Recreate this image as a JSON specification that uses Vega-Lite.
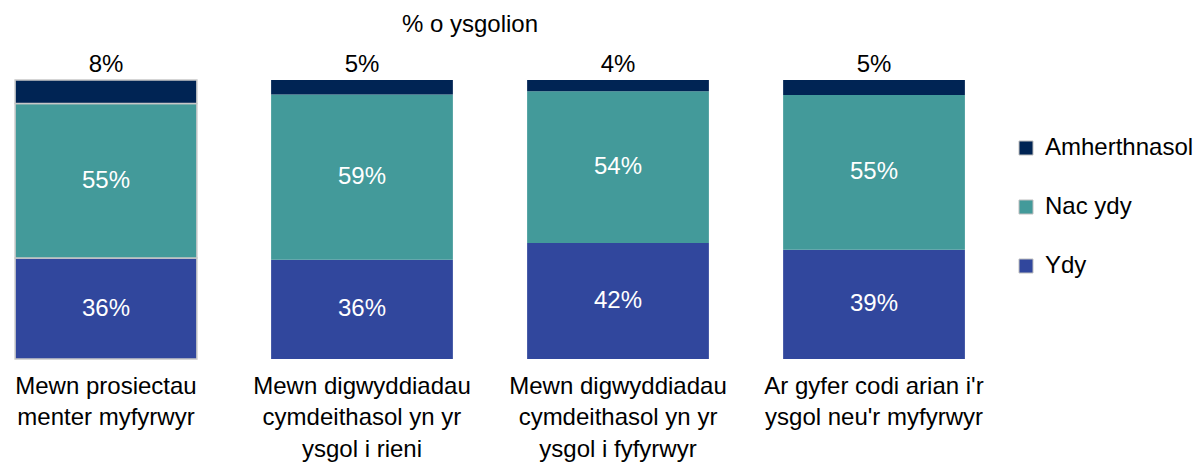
{
  "$schema": "https://vega.github.io/schema/vega-lite/v6.json",
  "width": 980,
  "height": 279,
  "autosize": {"type": "none"},
  "padding": {"left": 0, "top": 80, "right": 223, "bottom": 104},
  "background": "white",
  "config": {"view": {"stroke": null}, "font": "Liberation Sans"},
  "title": {"text": "% o ysgolion", "fontSize": 24, "fontWeight": "normal", "font": "Liberation Sans", "color": "black", "anchor": "middle", "dx": -20, "offset": 16},
  "data": {
    "values": [
      {"cat": "Mewn prosiectau|menter myfyrwyr", "series": "Ydy", "value": 0.362},
      {"cat": "Mewn prosiectau|menter myfyrwyr", "series": "Nac ydy", "value": 0.554},
      {"cat": "Mewn prosiectau|menter myfyrwyr", "series": "Amherthnasol", "value": 0.084},
      {"cat": "Mewn digwyddiadau|cymdeithasol yn yr|ysgol i rieni", "series": "Ydy", "value": 0.356},
      {"cat": "Mewn digwyddiadau|cymdeithasol yn yr|ysgol i rieni", "series": "Nac ydy", "value": 0.592},
      {"cat": "Mewn digwyddiadau|cymdeithasol yn yr|ysgol i rieni", "series": "Amherthnasol", "value": 0.052},
      {"cat": "Mewn digwyddiadau|cymdeithasol yn yr|ysgol i fyfyrwyr", "series": "Ydy", "value": 0.416},
      {"cat": "Mewn digwyddiadau|cymdeithasol yn yr|ysgol i fyfyrwyr", "series": "Nac ydy", "value": 0.544},
      {"cat": "Mewn digwyddiadau|cymdeithasol yn yr|ysgol i fyfyrwyr", "series": "Amherthnasol", "value": 0.04},
      {"cat": "Ar gyfer codi arian i'r|ysgol neu'r myfyrwyr", "series": "Ydy", "value": 0.392},
      {"cat": "Ar gyfer codi arian i'r|ysgol neu'r myfyrwyr", "series": "Nac ydy", "value": 0.554},
      {"cat": "Ar gyfer codi arian i'r|ysgol neu'r myfyrwyr", "series": "Amherthnasol", "value": 0.054}
    ]
  },
  "encoding": {
    "x": {
      "field": "cat", "type": "nominal", "sort": null,
      "scale": {"paddingInner": 0.29, "paddingOuter": 0.059},
      "axis": {"title": null, "ticks": false, "domain": false, "labelAngle": 0, "labelFontSize": 24, "labelColor": "black", "labelPadding": 15, "labelLineHeight": 31.5, "labelExpr": "split(datum.label, '|')", "labelLimit": 400, "labelFont": "Liberation Sans"}
    },
    "order": {"field": "series", "sort": "descending"}
  },
  "layer": [
    {
      "mark": {"type": "bar", "strokeWidth": 1.5},
      "encoding": {
        "y": {"field": "value", "type": "quantitative", "stack": "zero", "scale": {"domain": [0, 1]}, "axis": null},
        "color": {
          "field": "series", "type": "nominal",
          "scale": {"domain": ["Amherthnasol", "Nac ydy", "Ydy"], "range": ["#002454", "#439a9a", "#31479d"]},
          "legend": {"title": null, "orient": "none", "legendX": 1014, "legendY": 56, "labelFontSize": 24, "labelColor": "black", "labelFont": "Liberation Sans", "symbolType": "square", "symbolSize": 196, "symbolStrokeColor": "#bfbfbf", "symbolStrokeWidth": 1, "rowPadding": 35, "labelOffset": 7, "padding": 0}
        },
        "stroke": {"condition": {"test": "datum.cat === 'Mewn prosiectau|menter myfyrwyr'", "value": "#c8c8c8"}, "value": "transparent"}
      }
    },
    {
      "mark": {"type": "text", "fontSize": 24, "color": "white", "baseline": "middle", "font": "Liberation Sans"},
      "encoding": {
        "y": {"field": "value", "type": "quantitative", "stack": "zero", "bandPosition": 0.5},
        "detail": {"field": "series"},
        "text": {"condition": {"test": "datum.series !== 'Amherthnasol'", "field": "value", "type": "quantitative", "format": ".0%"}, "value": ""}
      }
    },
    {
      "mark": {"type": "text", "fontSize": 24, "color": "black", "baseline": "middle", "dy": -15, "font": "Liberation Sans"},
      "encoding": {
        "y": {"field": "value", "type": "quantitative", "stack": "zero"},
        "detail": {"field": "series"},
        "text": {"condition": {"test": "datum.series === 'Amherthnasol'", "field": "value", "type": "quantitative", "format": ".0%"}, "value": ""}
      }
    }
  ]
}
